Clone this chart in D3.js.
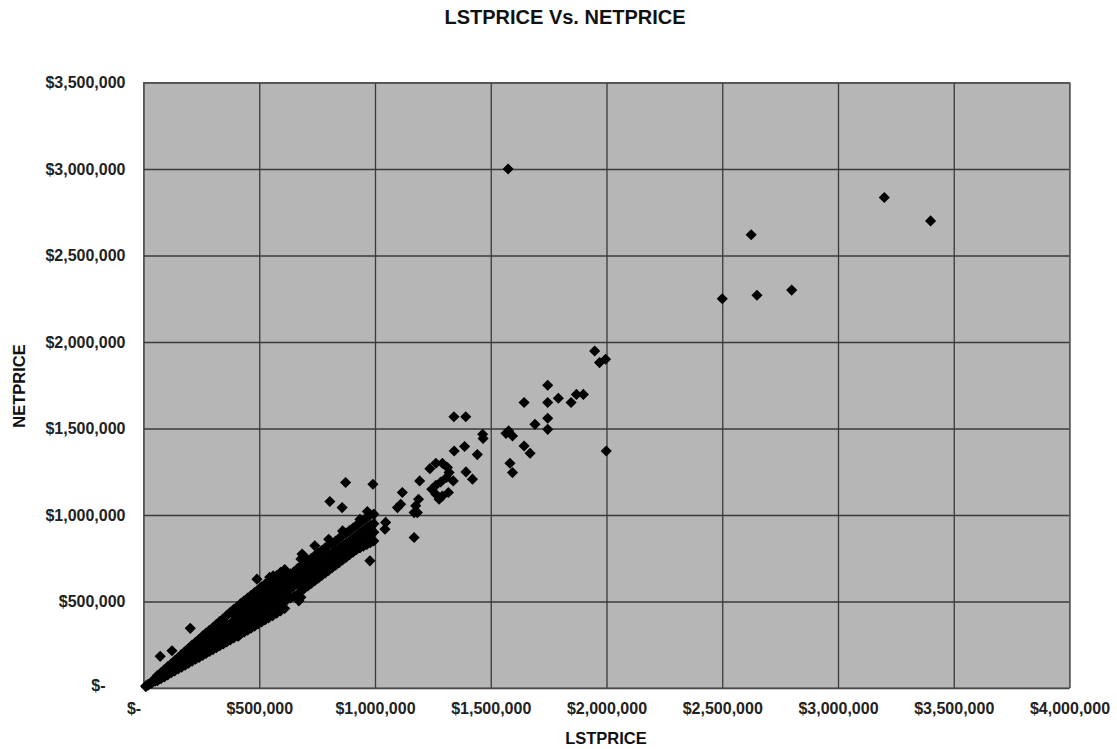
<!DOCTYPE html>
<html><head><meta charset="utf-8">
<script src="https://cdn.jsdelivr.net/npm/d3@7"></script>
<style>
body{margin:0;background:#fff;}
text{font-family:"Liberation Sans",Arial,Helvetica,sans-serif;font-weight:bold;}
</style>
</head><body>
<svg id="chart" width="1117" height="749"></svg>
<script>
// Values in $ thousands
const xTicks = [0, 500, 1000, 1500, 2000, 2500, 3000, 3500, 4000];
const yTicks = [0, 500, 1000, 1500, 2000, 2500, 3000, 3500];

// dense cluster (LSTPRICE, NETPRICE)
const clusterLst = [
  10,10, 20,20, 35,35, 50,50,50, 65,65,65, 80,80,80, 95,95,95, 110,110,110,
  125,125,125, 140,140,140, 155,155,155, 170,170,170, 185,185,185, 200,200,200,
  215,215,215, 230,230,230, 245,245,245, 260,260,260, 275,275,275,275, 290,290,290,
  305,305,305,305, 320,320,320, 335,335,335, 350,350,350,350, 365,365,365, 380,380,380,
  395,395,395,395, 410,410,410,410,410, 425,425,425,425, 440,440,440,440, 455,455,455,455,
  470,470,470,470, 485,485,485,485, 500,500,500,500,500, 515,515,515,515, 530,530,530,530,
  545,545,545,545,545, 560,560,560,560,560, 575,575,575,575, 590,590,590,590,
  605,605,605,605,605, 620,620,620,620, 635,635,635,635, 650,650,650,650, 665,665,665,665,
  680,680,680,680,680,680, 695,695,695,695,695, 710,710,710,710, 725,725,725,725,
  740,740,740,740,740, 755,755,755,755, 770,770,770,770, 785,785,785,785,
  800,800,800,800,800, 815,815,815,815, 830,830,830,830, 845,845,845,845,
  860,860,860,860,860, 875,875,875,875, 890,890,890,890, 905,905,905,905,
  920,920,920,920, 935,935,935,935,935, 950,950,950,950, 965,965,965,965,
  980,980,980,980, 995,995,995,995
];
const clusterNet = [
  8,12, 16,22, 28,36, 40,48,55, 52,62,70, 66,76,86, 78,90,102, 90,104,116,
  102,118,132, 115,132,148, 126,145,162, 138,158,178, 150,172,192, 162,186,208,
  174,198,222, 186,212,238, 198,226,252, 208,238,266, 220,250,280,300, 232,262,294,
  244,275,306,325, 256,290,322, 268,302,336, 280,316,350,370, 292,330,362, 305,342,378,
  318,356,392,420, 300,330,370,405,440, 345,385,420,455, 360,398,435,470, 372,412,450,485,
  385,425,462,500, 398,440,478,515, 412,452,492,530,560, 425,465,505,545, 420,480,520,560,
  450,492,532,572,640, 462,505,548,590,648, 475,520,562,600, 488,535,575,615,
  500,548,590,630,665, 510,560,605,645, 520,575,620,660, 530,588,632,672, 540,600,645,690,
  525,560,612,660,705,745, 575,625,672,720,760, 590,638,685,735, 605,650,700,750,
  620,665,712,765,822, 635,680,728,780, 650,692,740,795, 665,705,755,810,
  680,720,768,825,860, 695,735,780,835, 710,750,795,850, 725,765,808,865,
  740,780,822,880,908, 755,795,835,895, 770,810,850,910, 785,825,865,925,
  800,840,880,940, 810,855,895,955,975, 820,868,910,970, 830,880,925,985,
  840,890,940,1000, 850,900,950,1005
];

// upper and lower edges of the lower part of the cluster
const edgeLst = [
  60,60, 75,75, 90,90, 105,105, 120,120, 135,135, 150,150, 165,165, 180,180, 195,195,
  210,210, 225,225, 240,240, 255,255, 270,270, 285,285, 300,300, 315,315,
  330,330, 345,345, 360,360, 375,375, 390,390, 405,405, 420,420, 435,435,
  450,450, 465,465, 480,480, 495,495, 510,510, 525,525, 540,540, 558,558, 575,575, 592,592, 610,610
];
const edgeNet = [
  72,42, 88,54, 106,64, 124,76, 140,88, 158,99, 176,110, 194,121, 212,132, 230,144,
  248,155, 264,166, 282,176, 300,188, 318,200, 334,211, 350,222, 368,233,
  385,244, 402,255, 420,266, 438,278, 455,290, 470,301, 488,312, 504,323,
  520,334, 536,346, 552,358, 568,370, 585,382, 600,394, 615,405, 632,418, 650,432, 668,446, 685,460
];

// scattered points
const spreadLst = [
  1575, 2500, 3200, 3400, 2625, 2650, 2800,
  1949, 1970, 1996, 1999,
  1746, 1792, 1746, 1644, 1847, 1870, 1900,
  1746, 1691, 1746,
  1341, 1392, 1465, 1467, 1577, 1594, 1566, 1644, 1670, 1583, 1594,
  1342, 1387, 1442, 1393, 1421,
  1237, 1263, 1291, 1313, 1320, 1309, 1284, 1263, 1245, 1263, 1291, 1317, 1277, 1338,
  1193, 1118, 1097, 1111, 1188, 1176, 1183, 1169, 1169,
  991, 1046, 1043, 873, 805, 858, 978, 967,
  202, 72, 123, 490, 685, 671, 534
];
const spreadNet = [
  3000, 2250, 2835, 2700, 2620, 2270, 2300,
  1948, 1881, 1900, 1370,
  1750, 1675, 1650, 1650, 1650, 1697, 1697,
  1559, 1524, 1495,
  1568, 1568, 1467, 1442, 1486, 1457, 1472, 1399, 1357, 1299, 1245,
  1370, 1396, 1349, 1249, 1207,
  1268, 1299, 1299, 1274, 1245, 1217, 1191, 1172, 1149, 1120, 1110, 1130, 1091, 1197,
  1197, 1130, 1043, 1062, 1091, 1053, 1014, 1014, 870,
  1178, 957, 918, 1188, 1078, 1043, 735, 1020,
  345, 183, 215, 629, 774, 504, 417
];

const lst = clusterLst.concat(edgeLst, spreadLst);
const net = clusterNet.concat(edgeNet, spreadNet);
const pts = lst.map((v, i) => ({x: v, y: net[i]}));

const svg = d3.select("#chart");
const L = 143.5, R = 1069.5, T = 82.5, B = 688;
const x = d3.scaleLinear().domain([0, 4000]).range([L, R]);
const y = d3.scaleLinear().domain([0, 3500]).range([B, T]);
const fmt = d => d === 0 ? "$-" : "$" + d3.format(",")(d * 1000);

svg.append("rect").attr("x", L).attr("y", T).attr("width", R - L).attr("height", B - T)
  .attr("fill", "#b6b6b6");

const gx = svg.append("g").attr("transform", `translate(0,${B})`)
  .call(d3.axisBottom(x).tickValues(xTicks).tickSize(-(B - T)).tickPadding(15).tickFormat(fmt));
const gy = svg.append("g").attr("transform", `translate(${L},0)`)
  .call(d3.axisLeft(y).tickValues(yTicks).tickSize(-(R - L)).tickPadding(18).tickFormat(fmt));
[gx, gy].forEach(g => {
  g.select(".domain").remove();
  g.selectAll(".tick line").attr("stroke", "#3a3a3a").attr("stroke-width", 1.3);
  g.selectAll(".tick text").attr("fill", "#222").style("font-size", "16px");
});
gx.selectAll(".tick text").filter(d => d === 0).attr("dx", -10);
gy.selectAll(".tick text").filter(d => d === 0).attr("dx", -20).attr("dy", "0.15em");

svg.append("rect").attr("x", L).attr("y", T).attr("width", R - L).attr("height", B - T)
  .attr("fill", "none").attr("stroke", "#555").attr("stroke-width", 1);

const sym = d3.symbol().type(d3.symbolSquare).size(62);
svg.append("g").selectAll("path").data(pts).join("path")
  .attr("d", sym)
  .attr("transform", d => `translate(${x(d.x)},${y(d.y)}) rotate(45)`)
  .attr("fill", "#000");

svg.append("text").attr("x", 565).attr("y", 24).attr("text-anchor", "middle")
  .style("font-size", "20px").attr("fill", "#111").text("LSTPRICE Vs. NETPRICE");
svg.append("text").attr("x", 606).attr("y", 744).attr("text-anchor", "middle")
  .style("font-size", "16.5px").attr("fill", "#111").text("LSTPRICE");
svg.append("text").attr("transform", "translate(25,386) rotate(-90)").attr("text-anchor", "middle")
  .style("font-size", "16.5px").attr("fill", "#111").text("NETPRICE");
</script>
</body></html>
